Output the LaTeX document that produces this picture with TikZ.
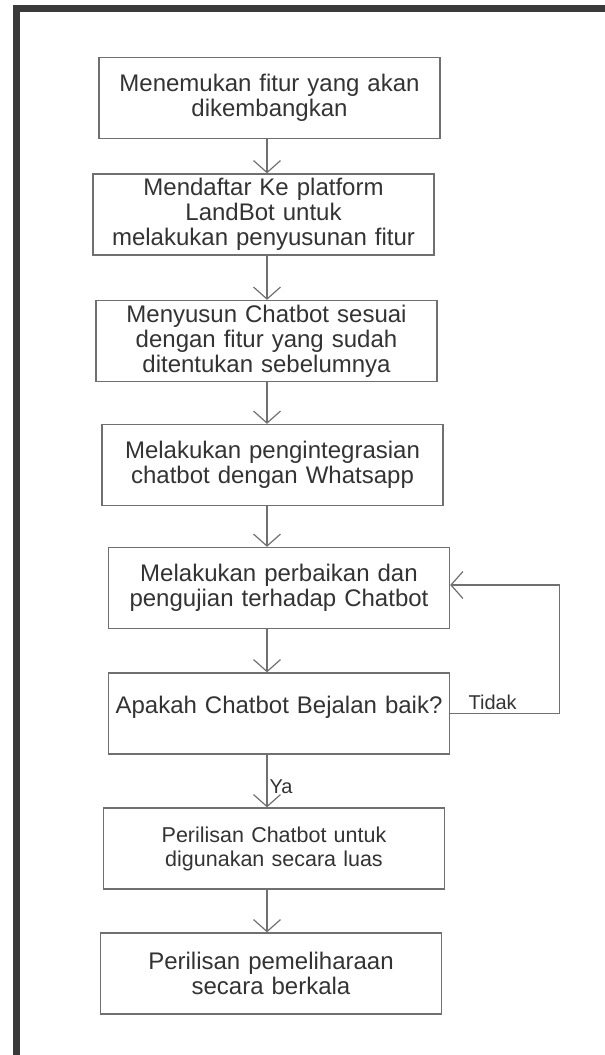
\documentclass[tikz,border=0pt]{standalone}
\usepackage{fontspec}
\setmainfont{Liberation Sans}
\usepackage{tikz}
\usetikzlibrary{calc, arrows.meta}

\definecolor{framegray}{HTML}{3A3A3A}
\definecolor{linegray}{HTML}{707070}
\definecolor{textgray}{HTML}{333333}

\begin{document}
\begin{tikzpicture}[
    x = 1pt, y = -1pt,
    box/.style = {draw = linegray, line width = 1.3pt, rectangle,
      minimum width = 341pt, minimum height = 81pt, inner sep = 2pt,
      text width = 336pt, align = center, text = textgray,
      font = \fontsize{24}{25}\selectfont},
    flow/.style = {draw = linegray, line width = 1.2pt,
      -{Straight Barb[length = 12pt, width = 27pt, line width = 1.2pt]}},
    lbl/.style = {text = textgray, font = \fontsize{20}{22}\selectfont, inner sep = 3pt}
  ]
  \useasboundingbox (0,0) rectangle (605,1055);

  % frame
  \draw[framegray, line width = 7pt] (16,1060) -- (16,8) -- (610,8);

  \coordinate (spine) at (267,0);

  % steps
  \node[box] (find)   at (269.5,98)  {Menemukan fitur yang akan\\dikembangkan};
  \node[box] (daftar) at (263.5,214.5) {Mendaftar Ke platform\\LandBot untuk\\melakukan penyusunan fitur};
  \node[box] (susun)  at (266.5,341) {Menyusun Chatbot sesuai\\dengan fitur yang sudah\\ditentukan sebelumnya};
  \node[box] (integr) at (272.5,465) {Melakukan pengintegrasian\\chatbot dengan Whatsapp};
  \node[box] (perbaiki) at (279,588) {Melakukan perbaikan dan\\pengujian terhadap Chatbot};
  \node[box, text depth = 18pt] (uji) at (279,713.5) {Apakah Chatbot Bejalan baik?};
  \node[box, font = \fontsize{21.5}{24}\selectfont] (rilis) at (274,848.5) {Perilisan Chatbot untuk\\digunakan secara luas};
  \node[box] (pelihara) at (271,973.5) {Perilisan pemeliharaan\\secara berkala};

  % arrows
  \draw[flow] (find.south -| spine) -- (daftar.north -| spine);
  \draw[flow] (daftar.south -| spine) -- (susun.north -| spine);
  \draw[flow] (susun.south -| spine) -- (integr.north -| spine);
  \draw[flow] (integr.south -| spine) -- (perbaiki.north -| spine);
  \draw[flow] (perbaiki.south -| spine) -- (uji.north -| spine);
  \draw[flow] (rilis.south -| spine) -- (pelihara.north -| spine);

  % Labels
  \draw[flow] (uji.south -| spine) --
    node [lbl, pos = 0.6, right, inner sep = 2pt] {Ya} (rilis.north -| spine);
  \draw[flow] (uji.east) --
    node [lbl, pos = 0.39, above] {Tidak} ++(109,0)
    |- ($(perbaiki.east) + (0,-3)$);

\end{tikzpicture}
\end{document}
